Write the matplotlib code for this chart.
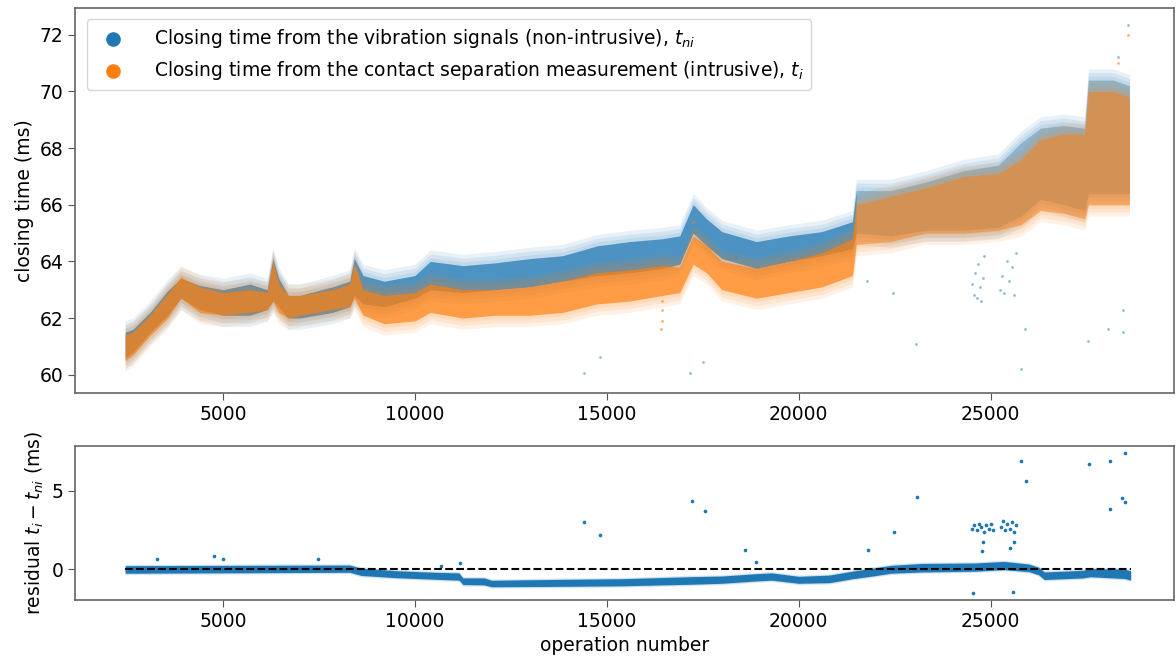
import numpy as np
import matplotlib.pyplot as plt

# operation numbers where the band edges were taken
ops = [2450, 2650, 3100, 3550, 3900, 4400, 5000, 5700, 6150, 6300,
       6450, 6700, 7000, 7850, 8300, 8420, 8650, 9200, 10000, 10400,
       11250, 12100, 13000, 13850, 14750, 15600, 16450, 16900, 17250, 17600,
       18000, 18900, 19750, 20600, 21400, 21500, 22400, 23300, 24300, 25200,
       25800, 26300, 26900, 27450, 27550, 28200, 28620]

# closing time from vibration signals (non-intrusive), dense band lower/upper
tni_lo = [60.6, 60.8, 61.5, 62.1, 62.7, 62.3, 62.1, 62.1, 62.3, 62.6,
          62.4, 62.0, 62.0, 62.2, 62.4, 62.8, 62.5, 62.4, 62.7, 63.0,
          62.9, 63.0, 63.1, 63.3, 63.5, 63.6, 63.75, 63.9, 65.0, 64.55,
          64.1, 63.75, 64.0, 64.2, 64.45, 65.0, 64.9, 65.1, 65.1, 65.2,
          65.6, 66.2, 66.0, 65.8, 66.4, 66.4, 66.4]
tni_hi = [61.5, 61.6, 62.2, 62.95, 63.4, 63.15, 63.0, 63.2, 63.0, 64.1,
          63.4, 62.8, 62.8, 63.1, 63.3, 64.1, 63.5, 63.3, 63.5, 64.0,
          63.85, 63.95, 64.1, 64.2, 64.55, 64.7, 64.8, 64.9, 66.0, 65.5,
          65.05, 64.7, 64.9, 65.05, 65.4, 66.5, 66.5, 66.8, 67.2, 67.4,
          68.2, 68.7, 68.8, 68.7, 70.4, 70.4, 70.2]

# closing time from contact separation (intrusive), dense band lower/upper
ti_lo = [60.5, 60.7, 61.4, 62.0, 62.7, 62.2, 62.1, 62.2, 62.3, 62.6,
         62.2, 62.0, 62.1, 62.3, 62.4, 62.7, 62.1, 61.8, 61.9, 62.2,
         62.0, 62.1, 62.1, 62.2, 62.5, 62.6, 62.8, 62.9, 63.9, 63.6,
         63.0, 62.7, 62.9, 63.1, 63.5, 64.6, 64.7, 65.0, 65.0, 65.1,
         65.3, 65.8, 65.7, 65.5, 66.0, 66.0, 66.0]
ti_hi = [61.4, 61.5, 62.1, 62.85, 63.45, 63.1, 62.9, 63.0, 62.9, 64.0,
         63.2, 62.8, 62.8, 63.0, 63.2, 63.9, 63.0, 62.8, 62.9, 63.2,
         63.0, 63.0, 63.1, 63.3, 63.6, 63.7, 63.85, 63.8, 64.9, 64.55,
         64.0, 63.75, 64.0, 64.3, 64.8, 66.0, 66.3, 66.6, 67.0, 67.1,
         67.6, 68.3, 68.5, 68.5, 70.0, 70.0, 69.8]

# isolated vibration-based values away from the band
tni_out_x = [14400, 14820, 17160, 17500, 21770, 22450, 23050, 25780, 25890,
             27530, 28070, 28440, 28460, 28570, 28310,
             24520, 24560, 24600, 24640, 24680, 24720, 24760, 24800, 24840,
             25250, 25300, 25350, 25420, 25480, 25550, 25600, 25650]
tni_out_y = [60.07, 60.63, 60.07, 60.46, 63.3, 62.9, 61.1, 60.2, 61.6,
             61.2, 61.6, 62.3, 61.5, 72.35, 71.2,
             63.2, 62.8, 63.6, 62.7, 63.9, 63.1, 62.6, 63.4, 64.2,
             63.0, 63.5, 62.9, 64.0, 63.3, 63.8, 62.8, 64.3]
ti_out_x = [16420, 16430, 16440, 16430, 28570, 28330, 17250]
ti_out_y = [61.6, 61.9, 62.3, 62.6, 72.0, 71.0, 65.4]

# residual t_i - t_ni
res_ops = [2450, 8300, 8600, 9500, 10500, 11150, 11250, 11800, 12000, 13500,
           15400, 17200, 18000, 18900, 19300, 20000, 20800, 21400, 22000, 22400,
           23200, 24600, 25350, 26000, 26250, 26400, 27400, 27600, 28500, 28650]
res_lo = [-0.24, -0.18, -0.38, -0.52, -0.62, -0.68, -0.96, -0.98, -1.1, -1.08,
          -1.04, -0.94, -0.88, -0.73, -0.68, -0.88, -0.84, -0.59, -0.39, -0.24,
          -0.16, -0.11, -0.01, -0.14, -0.34, -0.64, -0.54, -0.46, -0.58, -0.68]
res_hi = [0.24, 0.28, 0.08, -0.08, -0.18, -0.22, -0.54, -0.54, -0.69, -0.64,
          -0.59, -0.46, -0.42, -0.27, -0.22, -0.44, -0.36, -0.11, 0.11, 0.26,
          0.38, 0.41, 0.51, 0.34, 0.14, -0.16, -0.06, 0.06, 0.01, -0.09]
res_out_x = [3280, 4770, 5000, 7470, 10680, 11170, 14400, 14820, 17230, 17565,
             18590, 18875, 21800, 22490, 23070, 25790, 25930, 27565, 28100, 28506,
             28100, 28430, 28506, 24550, 25580,
             24520, 24580, 24640, 24700, 24760, 24820, 24880, 24950, 25020, 25070,
             25260, 25320, 25380, 25440, 25500, 25560, 25620, 25670,
             24800, 24770, 25600, 25500]
res_out_y = [0.64, 0.83, 0.64, 0.64, 0.2, 0.38, 3.0, 2.2, 4.35, 3.72,
             1.27, 0.49, 1.27, 2.36, 4.63, 6.92, 5.63, 6.71, 6.92, 7.39,
             3.86, 4.56, 4.31, -1.53, -1.44,
             2.6, 2.8, 2.5, 2.9, 2.7, 2.4, 2.8, 2.6, 2.9, 2.5,
             2.7, 3.1, 2.5, 2.9, 2.6, 3.0, 2.4, 2.8,
             1.72, 1.17, 1.72, 1.38]

FS = 13.5
C_NI = '#1f77b4'
C_I = '#ff7f0e'
LATE = 21500  # from here the cloud is much sparser


def band(ax, x, lo, hi, color, core_alpha, spread, late_alpha=None):
    x = np.asarray(x)
    lo = np.asarray(lo)
    hi = np.asarray(hi)
    # soft fringe of scattered points around the dense core
    for f in (1.0, 0.66, 0.33):
        ax.fill_between(x, lo - spread * f, hi + spread * f, color=color,
                        alpha=0.1, lw=0)
    if late_alpha is None:
        ax.fill_between(x, lo, hi, color=color, alpha=core_alpha, lw=0)
        return
    early = x <= LATE
    late = x >= LATE
    ax.fill_between(x[early], lo[early], hi[early], color=color,
                    alpha=core_alpha, lw=0)
    ax.fill_between(x[late], lo[late], hi[late], color=color,
                    alpha=late_alpha, lw=0)


fig = plt.figure(figsize=(11.76, 6.58), dpi=100)
ax1 = fig.add_axes([0.064, 0.403, 0.934, 0.585])
ax2 = fig.add_axes([0.064, 0.088, 0.934, 0.234])

band(ax1, ops, tni_lo, tni_hi, C_NI, 0.72, 0.4, late_alpha=0.35)
ax1.scatter(tni_out_x, tni_out_y, s=4, color=C_NI, alpha=0.5, lw=0)
band(ax1, ops, ti_lo, ti_hi, C_I, 0.68, 0.4, late_alpha=0.5)
ax1.scatter(ti_out_x, ti_out_y, s=4, color=C_I, alpha=0.6, lw=0)

h1 = ax1.scatter([], [], s=90, color=C_NI)
h2 = ax1.scatter([], [], s=90, color=C_I)
ax1.legend([h1, h2],
           [r'Closing time from the vibration signals (non-intrusive), $t_{ni}$',
            r'Closing time from the contact separation measurement (intrusive), $t_i$'],
           loc='upper left', fontsize=FS, borderaxespad=0.6, handletextpad=1.2)
ax1.set_ylabel('closing time (ms)', fontsize=FS)
ax1.set_ylim(59.36, 72.95)
ax1.set_yticks(range(60, 73, 2))

band(ax2, res_ops, res_lo, res_hi, C_NI, 1.0, 0.1)
ax2.scatter(res_out_x, res_out_y, s=7, color=C_NI, lw=0)
ax2.plot([2450, 28650], [0, 0], 'k--', lw=1.5)
ax2.set_ylim(-1.95, 7.85)
ax2.set_yticks([0, 5])
ax2.set_xlabel('operation number', fontsize=FS)
ax2.set_ylabel(r'residual $t_i - t_{ni}$ (ms)', fontsize=FS)

for ax in (ax1, ax2):
    ax.set_xlim(1150, 29770)
    ax.set_xticks([5000, 10000, 15000, 20000, 25000])
    ax.tick_params(labelsize=FS, length=5, color='#555555')
    for s in ax.spines.values():
        s.set_color('#666666')
        s.set_linewidth(1.2)

fig.savefig('out.png', dpi=100)
